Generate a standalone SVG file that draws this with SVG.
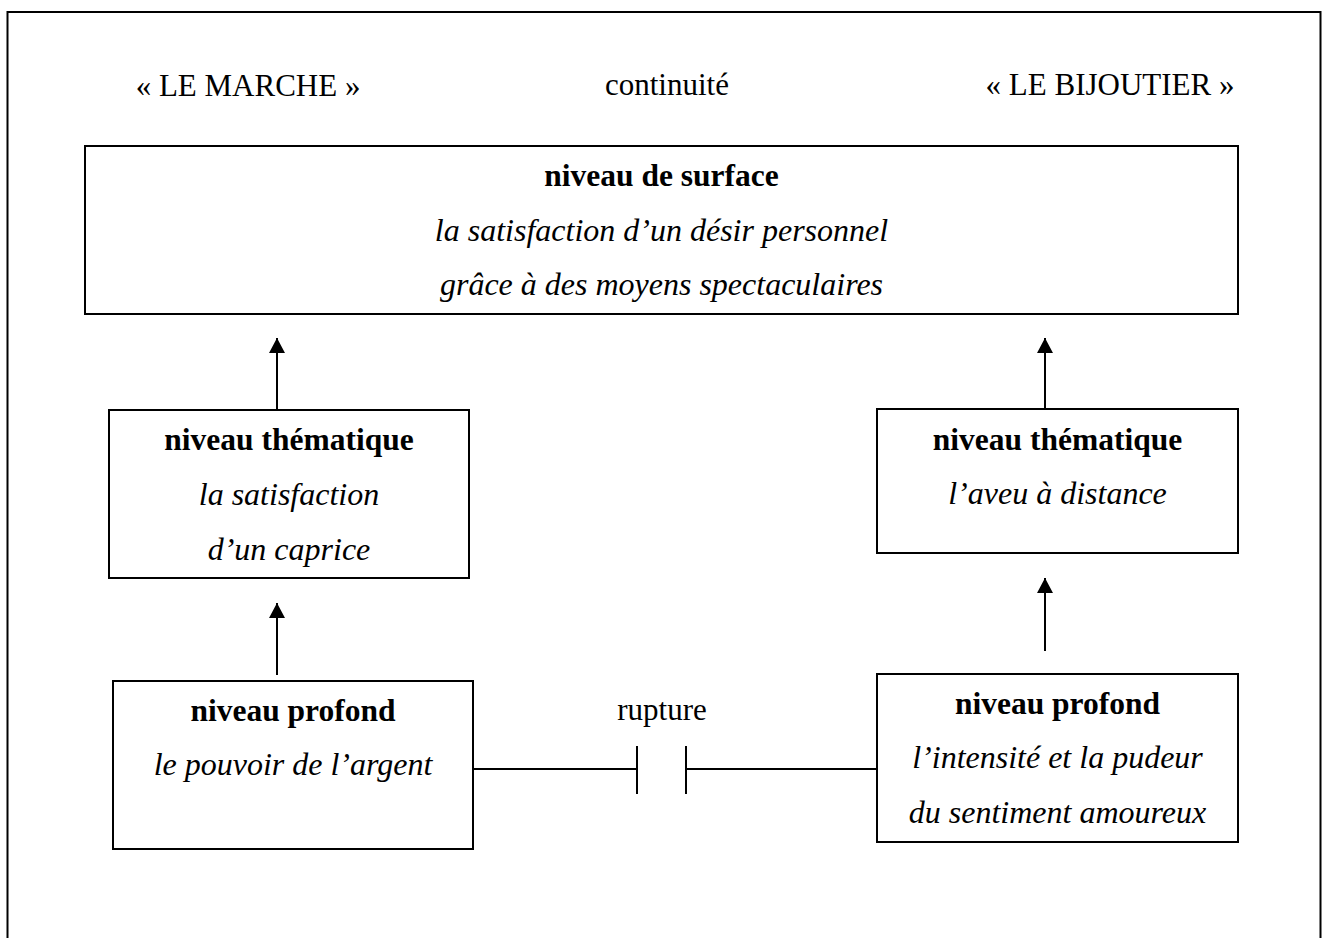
<svg xmlns="http://www.w3.org/2000/svg" width="1327" height="938" viewBox="0 0 1327 938">
  <style>
    .box { fill: #ffffff; stroke: #000000; stroke-width: 2; }
    .ln { stroke: #000000; stroke-width: 2; fill: none; }
    .t { font-family: "Liberation Serif", "Times New Roman", serif; fill: #000000; text-anchor: middle; }
    .r { font-size: 31px; }
    .b { font-size: 31.5px; font-weight: bold; }
    .i { font-size: 32px; font-style: italic; }
  </style>
  <defs>
    <marker id="ah" viewBox="0 0 15 16" refX="15" refY="8" markerWidth="15" markerHeight="16" markerUnits="userSpaceOnUse" orient="auto">
      <path d="M0,0 L15,8 L0,16 Z" fill="#000000"/>
    </marker>
  </defs>
  <rect x="0" y="0" width="1327" height="938" fill="#ffffff"/>
  <rect id="frame" x="7.5" y="12" width="1313" height="960" class="ln"/>

  <g id="headers">
    <text class="t r" x="248" y="96">« LE MARCHE »</text>
    <text class="t r" x="667" y="95">continuité</text>
    <text class="t r" x="1110" y="95">« LE BIJOUTIER »</text>
  </g>

  <g id="surface">
    <rect class="box" x="85" y="146" width="1153" height="168"/>
    <text class="t b" x="661.5" y="186">niveau de surface</text>
    <text class="t i" x="661.5" y="241">la satisfaction d’un désir personnel</text>
    <text class="t i" x="661.5" y="295">grâce à des moyens spectaculaires</text>
  </g>

  <g id="thematique-gauche">
    <rect class="box" x="109" y="410" width="360" height="168"/>
    <text class="t b" x="289" y="450">niveau thématique</text>
    <text class="t i" x="289" y="505">la satisfaction</text>
    <text class="t i" x="289" y="560">d’un caprice</text>
  </g>

  <g id="thematique-droite">
    <rect class="box" x="877" y="409" width="361" height="144"/>
    <text class="t b" x="1057.5" y="450">niveau thématique</text>
    <text class="t i" x="1057.5" y="504">l’aveu à distance</text>
  </g>

  <g id="profond-gauche">
    <rect class="box" x="113" y="681" width="360" height="168"/>
    <text class="t b" x="293" y="721">niveau profond</text>
    <text class="t i" x="293" y="775">le pouvoir de l’argent</text>
  </g>

  <g id="profond-droite">
    <rect class="box" x="877" y="674" width="361" height="168"/>
    <text class="t b" x="1057.5" y="714">niveau profond</text>
    <text class="t i" x="1057.5" y="768">l’intensité et la pudeur</text>
    <text class="t i" x="1057.5" y="823">du sentiment amoureux</text>
  </g>

  <g id="rupture-label">
    <text class="t r" x="662" y="720">rupture</text>
  </g>

  <g id="connectors">
    <line class="ln" x1="277" y1="410" x2="277" y2="338" marker-end="url(#ah)"/>
    <line class="ln" x1="1045" y1="409" x2="1045" y2="338" marker-end="url(#ah)"/>
    <line class="ln" x1="277" y1="675" x2="277" y2="603" marker-end="url(#ah)"/>
    <line class="ln" x1="1045" y1="651" x2="1045" y2="578" marker-end="url(#ah)"/>
    <line class="ln" x1="473" y1="769" x2="637" y2="769"/>
    <line class="ln" x1="637" y1="746" x2="637" y2="794"/>
    <line class="ln" x1="686" y1="746" x2="686" y2="794"/>
    <line class="ln" x1="686" y1="769" x2="877" y2="769"/>
  </g>
</svg>
